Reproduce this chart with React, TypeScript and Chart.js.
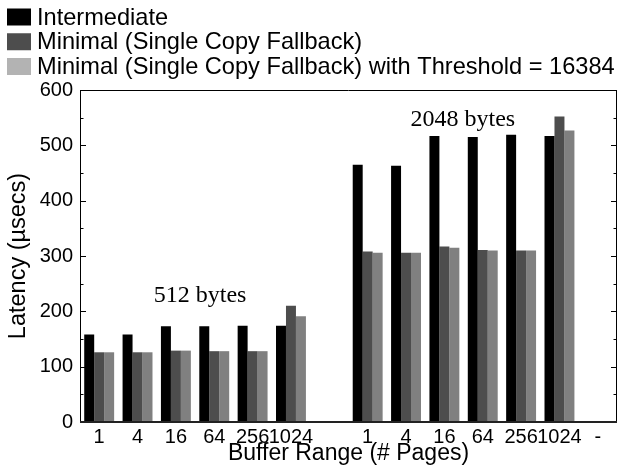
import React, { useEffect, useRef } from 'react';
import { Chart, registerables } from 'chart.js';

Chart.register(...registerables);

// ---- data ----
const bufferRanges = ['1', '4', '16', '64', '256', '1024'];
const seriesNames = [
  'Intermediate',
  'Minimal (Single Copy Fallback)',
  'Minimal (Single Copy Fallback) with Threshold = 16384',
];
const intermediate512 = [158, 158, 173, 173, 174, 174];
const intermediate2048 = [465, 463, 517, 515, 519, 517];
const minimal512 = [126, 126, 129, 128, 128, 210];
const minimal2048 = [308, 306, 317, 311, 310, 552];
const threshold512 = [126, 126, 129, 128, 128, 191];
const threshold2048 = [306, 306, 315, 310, 310, 527];
const groupNotes = ['512 bytes', '2048 bytes'];
const yMin = 0;
const yMax = 600;
const yStep = 100;

// ---- styles ----
const barColors = ['#000000', '#4d4d4d', '#808080'];
const legendColors = ['#000000', '#4d4d4d', '#b3b3b3'];
const SANS = '"Liberation Sans", Arial, Helvetica, sans-serif';
const SERIF = '"Liberation Serif", "Times New Roman", serif';

const joinGroups = (a: number[], b: number[]) => [...a, null, ...b, null];
const xLabels = [...bufferRanges, '', ...bufferRanges, '-'];

const framePlugin = {
  id: 'frameTicks',
  afterDatasetsDraw(chart: any) {
    const { ctx, chartArea, scales } = chart;
    const { left, right, top, bottom } = chartArea;
    const y = scales.y;
    ctx.save();
    ctx.strokeStyle = '#000';
    ctx.lineWidth = 1;
    const half = yStep / 2;
    for (let v = y.min; v <= y.max + 1e-6; v += half) {
      const py = Math.round(y.getPixelForValue(v)) + 0.5;
      const len = Math.abs(v % yStep) < 1e-6 ? 6 : 3.5;
      ctx.beginPath();
      ctx.moveTo(left, py);
      ctx.lineTo(left + len, py);
      ctx.moveTo(right - len, py);
      ctx.lineTo(right, py);
      ctx.stroke();
    }
    ctx.beginPath();
    ctx.moveTo(left + 0.5, bottom);
    ctx.lineTo(left + 0.5, top + 0.5);
    ctx.lineTo(right - 0.5, top + 0.5);
    ctx.lineTo(right - 0.5, bottom);
    ctx.stroke();
    ctx.lineWidth = 2;
    ctx.strokeStyle = '#222';
    ctx.beginPath();
    ctx.moveTo(left, bottom);
    ctx.lineTo(right, bottom);
    ctx.stroke();

    // group annotations
    const x = scales.x;
    ctx.fillStyle = '#000';
    ctx.font = `24px ${SERIF}`;
    ctx.textAlign = 'center';
    ctx.textBaseline = 'middle';
    const notePos = [
      [2.63, 229],
      [9.48, 547],
    ];
    groupNotes.forEach((t, i) => {
      ctx.fillText(t, x.getPixelForValue(notePos[i][0]), y.getPixelForValue(notePos[i][1]));
    });
    ctx.restore();
  },
};

const legendPlugin = {
  id: 'stackedLegend',
  afterDraw(chart: any) {
    const ctx = chart.ctx;
    ctx.save();
    ctx.font = `23.6px ${SANS}`;
    ctx.textBaseline = 'middle';
    ctx.textAlign = 'left';
    chart.data.datasets.forEach((ds: any, i: number) => {
      const cy = 17 + i * 24.75;
      ctx.fillStyle = legendColors[i];
      ctx.fillRect(7, cy - 8.5, 24, 17);
      ctx.fillStyle = '#000';
      ctx.fillText(ds.label, 37, cy + 1);
    });
    ctx.restore();
  },
};

export default function App() {
  const canvasRef = useRef<HTMLCanvasElement | null>(null);

  useEffect(() => {
    if (!canvasRef.current) return;
    const chart = new Chart(canvasRef.current, {
      type: 'bar',
      data: {
        labels: xLabels,
        datasets: [
          { label: seriesNames[0], data: joinGroups(intermediate512, intermediate2048), backgroundColor: barColors[0] },
          { label: seriesNames[1], data: joinGroups(minimal512, minimal2048), backgroundColor: barColors[1] },
          { label: seriesNames[2], data: joinGroups(threshold512, threshold2048), backgroundColor: barColors[2] },
        ],
      },
      options: {
        animation: false,
        responsive: true,
        maintainAspectRatio: false,
        layout: { padding: { top: 90, right: 7, bottom: 0, left: 0 } },
        datasets: {
          bar: { categoryPercentage: 0.78, barPercentage: 1.0, borderWidth: 0 },
        },
        plugins: {
          legend: { display: false },
          tooltip: { enabled: false },
        },
        scales: {
          x: {
            type: 'category',
            offset: true,
            grid: { display: false, drawTicks: false },
            border: { display: false },
            ticks: {
              color: '#000',
              font: { family: SANS, size: 20 },
              padding: 3,
              maxRotation: 0,
              autoSkip: false,
            },
            title: {
              display: true,
              text: 'Buffer Range (# Pages)',
              color: '#000',
              font: { family: SANS, size: 23 },
              padding: { top: 0, bottom: -1 },
            },
            afterFit: (s: any) => {
              s.height = 44;
            },
          },
          y: {
            min: yMin,
            max: yMax,
            grid: { display: false, drawTicks: false },
            border: { display: false },
            ticks: {
              stepSize: yStep,
              color: '#000',
              font: { family: SANS, size: 20 },
              padding: 7,
            },
            title: {
              display: true,
              text: 'Latency (µsecs)',
              color: '#000',
              font: { family: SANS, size: 23.5 },
              padding: { top: 4, bottom: 0 },
            },
            afterFit: (s: any) => {
              s.width = 80;
            },
          },
        },
      },
      plugins: [framePlugin, legendPlugin],
    });
    return () => chart.destroy();
  }, []);

  return (
    <div style={{ position: 'fixed', left: 0, top: 0, width: 624, height: 466, background: '#fff' }}>
      <canvas ref={canvasRef} />
    </div>
  );
}
